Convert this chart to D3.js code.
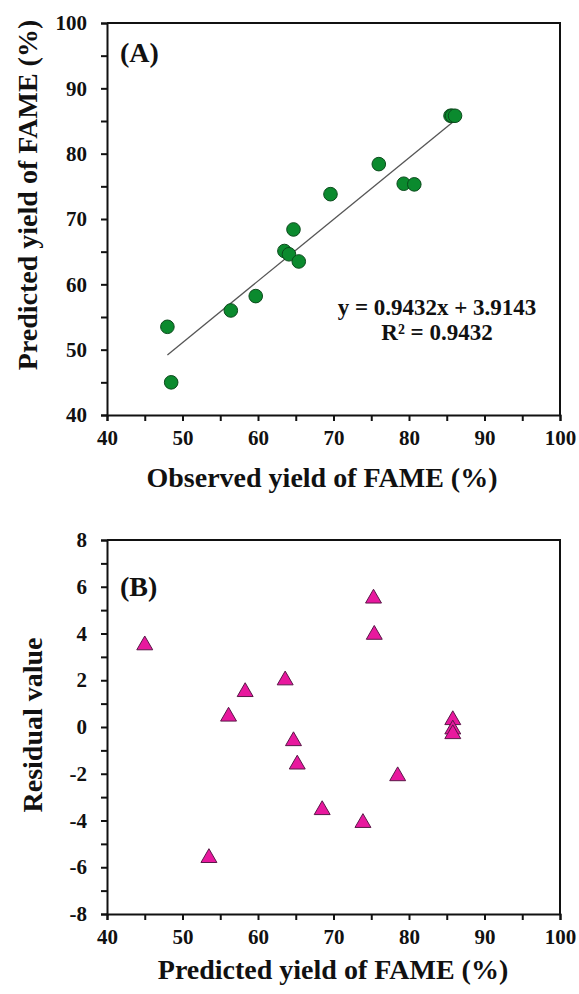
<!DOCTYPE html>
<html>
<head>
<meta charset="utf-8">
<script src="https://cdn.jsdelivr.net/npm/d3@7"></script>
<style>
  body { margin: 0; background: #fff; }
  svg text { font-family: "Liberation Serif", "Times New Roman", serif; font-weight: bold; fill: #111; }
  .axis path, .axis line { stroke: #111; stroke-width: 2; }
</style>
</head>
<body>
<div id="container"></div>
<script>
// panel A: observed vs predicted yield
const observed  = [48.0, 48.5, 56.4, 59.7, 63.5, 64.1, 64.7, 65.4, 69.6, 76.0, 79.3, 80.7, 85.5, 85.7, 86.1];
const predicted = [53.5, 45.0, 56.0, 58.2, 65.1, 64.6, 68.4, 63.5, 73.8, 78.4, 75.4, 75.3, 85.8, 85.8, 85.8];
const trendX = [48.0, 86.1];
const trendY = [49.2, 85.1];

// panel B: residuals
const residX = [45.0, 53.5, 56.1, 58.3, 63.6, 64.7, 65.2, 68.5, 73.9, 75.3, 75.4, 78.5, 85.8, 85.8, 85.8];
const residY = [3.5, -5.6, 0.45, 1.5, 2.0, -0.6, -1.6, -3.55, -4.1, 5.5, 3.95, -2.1, 0.3, -0.1, -0.3];

const xTicks = [40, 50, 60, 70, 80, 90, 100];
const yTicksA = [40, 50, 60, 70, 80, 90, 100];
const yTicksB = [-8, -6, -4, -2, 0, 2, 4, 6, 8];

const W = 579, H = 994;
const left = 107, right = 560;

const svg = d3.select("#container").append("svg")
  .attr("width", W)
  .attr("height", H);

function frame(x, y, xMinor, yMinor, yTicks, yFmt) {
  const g = svg.append("g");
  const [x0, x1] = x.range();
  const [y0, y1] = y.range();

  g.append("g")
    .attr("class", "axis")
    .attr("transform", `translate(0, ${y0})`)
    .call(d3.axisBottom(x).tickValues(xMinor).tickSize(6).tickPadding(8)
      .tickFormat(d => xTicks.includes(d) ? d : ""))
    .call(a => a.selectAll("text").style("font-size", "21px").attr("dy", "0.75em"));

  g.append("g")
    .attr("class", "axis")
    .attr("transform", `translate(${x0}, 0)`)
    .call(d3.axisLeft(y).tickValues(yMinor).tickSize(6).tickPadding(14)
      .tickFormat(d => yTicks.includes(d) ? yFmt(d) : ""))
    .call(a => a.selectAll("text").style("font-size", "21px"));

  // top and right border
  g.append("path")
    .attr("d", `M${x0},${y1}H${x1}V${y0}`)
    .attr("fill", "none")
    .attr("stroke", "#111")
    .attr("stroke-width", 2);
  return g;
}

// ---- A ----
const xA = d3.scaleLinear().domain([40, 100]).range([left, right]);
const yA = d3.scaleLinear().domain([40, 100]).range([415, 23]);

const gA = frame(xA, yA, d3.range(40, 101, 5), d3.range(40, 101, 5), yTicksA, d => d);

gA.append("line")
  .attr("x1", xA(trendX[0])).attr("y1", yA(trendY[0]))
  .attr("x2", xA(trendX[1])).attr("y2", yA(trendY[1]))
  .attr("stroke", "#555")
  .attr("stroke-width", 1.3);

gA.selectAll("circle")
  .data(observed.map((o, i) => [o, predicted[i]]))
  .enter()
  .append("circle")
  .attr("cx", d => xA(d[0]))
  .attr("cy", d => yA(d[1]))
  .attr("r", 6.8)
  .attr("fill", "#0b8a2e")
  .attr("stroke", "#0b4a1c")
  .attr("stroke-width", 1);

gA.append("text").attr("x", 120).attr("y", 62).style("font-size", "28px").text("(A)");

gA.append("text")
  .attr("x", 437).attr("y", 315)
  .attr("text-anchor", "middle")
  .style("font-size", "23px")
  .text("y = 0.9432x + 3.9143");
gA.append("text")
  .attr("x", 437).attr("y", 340)
  .attr("text-anchor", "middle")
  .style("font-size", "23px")
  .text("R² = 0.9432");

svg.append("text")
  .attr("x", 322).attr("y", 487)
  .attr("text-anchor", "middle")
  .style("font-size", "28px")
  .text("Observed yield of FAME (%)");

svg.append("text")
  .attr("transform", "translate(37, 195) rotate(-90)")
  .attr("text-anchor", "middle")
  .style("font-size", "28px")
  .text("Predicted yield of FAME (%)");

// ---- B ----
const xB = d3.scaleLinear().domain([40, 100]).range([left, right]);
const yB = d3.scaleLinear().domain([-8, 8]).range([914, 540]);

const gB = frame(xB, yB, d3.range(40, 101, 5), d3.range(-8, 9, 1), yTicksB, d => d < 0 ? "-" + Math.abs(d) : d);

gB.selectAll("path.tri")
  .data(residX.map((p, i) => [p, residY[i]]))
  .enter()
  .append("path")
  .attr("class", "tri")
  .attr("d", d3.symbol().type(d3.symbolTriangle).size(110))
  .attr("transform", d => `translate(${xB(d[0])}, ${yB(d[1])})`)
  .attr("fill", "#e8189e")
  .attr("stroke", "#5a1848")
  .attr("stroke-width", 1);

gB.append("text").attr("x", 120).attr("y", 596).style("font-size", "28px").text("(B)");

svg.append("text")
  .attr("x", 333).attr("y", 979)
  .attr("text-anchor", "middle")
  .style("font-size", "28px")
  .text("Predicted yield of FAME (%)");

svg.append("text")
  .attr("transform", "translate(42, 725) rotate(-90)")
  .attr("text-anchor", "middle")
  .style("font-size", "28px")
  .text("Residual value");
</script>
</body>
</html>
